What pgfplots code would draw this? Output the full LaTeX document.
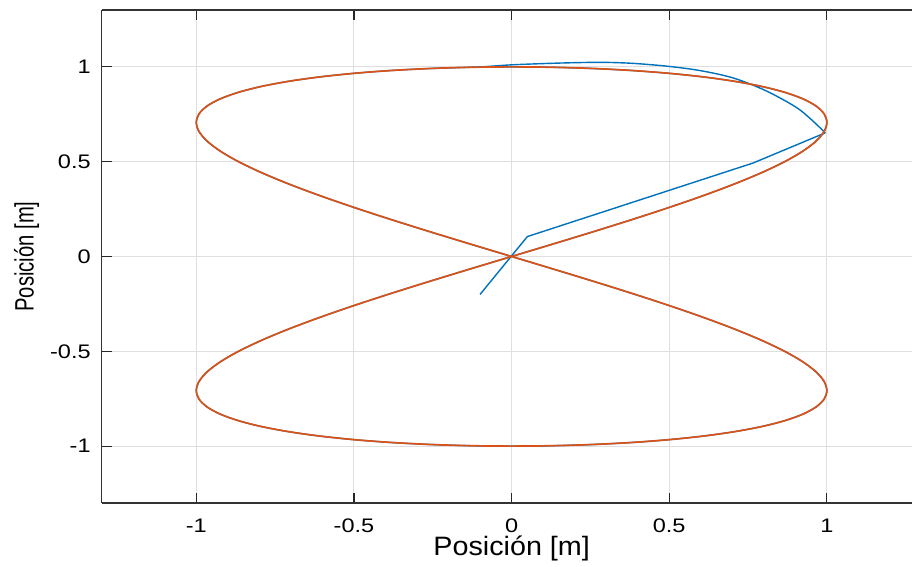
\documentclass[border=0pt]{standalone}
\usepackage{fontspec}
\setmainfont{Liberation Sans}
\usepackage{pgfplots}
\pgfplotsset{compat=1.18}
\usepackage{graphicx}
\definecolor{mblue}{rgb}{0,0.447,0.741}
\definecolor{morange}{rgb}{0.850,0.325,0.098}
\newcommand{\tl}[1]{\scalebox{1.2}[1]{#1}}
\begin{document}
\begin{tikzpicture}
\begin{axis}[
 scale only axis, width=405.15pt, height=246.5pt,
 xmin=-1.3, xmax=1.27, ymin=-1.3, ymax=1.3,
 axis x line*=box, axis y line*=left,
 axis line style={black!80, line width=0.6pt, -},
 xtick={-1,-0.5,0,0.5,1}, xticklabels={\tl{-1},\tl{-0.5},\tl{0},\tl{0.5},\tl{1}},
 ytick={-1,-0.5,0,0.5,1}, yticklabels={\tl{-1},\tl{-0.5},\tl{0},\tl{0.5},\tl{1}},
 tick style={black!85, line width=0.6pt},
 major tick length=5pt, tick align=inside,
 grid=major, grid style={gray!25, line width=0.55pt},
 ticklabel style={font=\fontsize{9.8}{11}\selectfont},
 xticklabel style={yshift=-4.5pt},
 yticklabel style={xshift=-2pt},
 xlabel={\scalebox{1.08}[1]{Posición [m]}}, ylabel={\scalebox{0.76}[1]{Posición [m]}},
 label style={font=\fontsize{13.3}{15}\selectfont},
 xlabel style={at={(rel axis cs:0.506,-0.0913)}, anchor=center},
 ylabel style={at={(rel axis cs:-0.0926,0.5)}, anchor=center},
]
% blue transient
\addplot[mblue, line width=0.7pt] coordinates {(-0.1,-0.2) (0.05,0.105) (0.766,0.493) (0.995,0.652)};
% blue trajectory
\addplot[mblue, line width=0.7pt, smooth] coordinates {
(0.995,0.652) (0.913,0.775) (0.808,0.873) (0.702,0.942) (0.596,0.981) (0.491,1.004) (0.38,1.019) (0.279,1.024) (0.15,1.02) (0.003,1.011) (-0.1,1.0)
(-.25882,.99144) (-.38268,.98079) (-.5,.96593) (-.60876,.94693) (-.70711,.92388) (-.79335,.89687) (-.86603,.86603) (-.92388,.83147) (-.96593,.79335) (-.99144,.75184) (-1,.70711) (-.99144,.65935) (-.96593,.60876) (-.92388,.55557) (-.86603,.5) (-.79335,.44229) (-.70711,.38268) (-.60876,.32144) (-.5,.25882) (-.38268,.19509) (-.25882,.13053) (-.13053,.06540) (0,0)
(.13053,-.06540) (.25882,-.13053) (.38268,-.19509) (.5,-.25882) (.60876,-.32144) (.70711,-.38268) (.79335,-.44229) (.86603,-.5) (.92388,-.55557) (.96593,-.60876) (.99144,-.65935) (1,-.70711) (.99144,-.75184) (.96593,-.79335) (.92388,-.83147) (.86603,-.86603) (.79335,-.89687) (.70711,-.92388) (.60876,-.94693) (.5,-.96593) (.38268,-.98079) (.25882,-.99144) (.13053,-.99786) (0,-1)
(-.13053,-.99786) (-.25882,-.99144) (-.38268,-.98079) (-.5,-.96593) (-.60876,-.94693) (-.70711,-.92388) (-.79335,-.89687) (-.86603,-.86603) (-.92388,-.83147) (-.96593,-.79335) (-.99144,-.75184) (-1,-.70711) (-.99144,-.65935) (-.96593,-.60876) (-.92388,-.55557) (-.86603,-.5) (-.79335,-.44229) (-.70711,-.38268) (-.60876,-.32144) (-.5,-.25882) (-.38268,-.19509) (-.25882,-.13053) (-.13053,-.06540) (0,0)
(.13053,.06540) (.25882,.13053) (.38268,.19509) (.5,.25882) (.60876,.32144) (.70711,.38268) (.79335,.44229) (.86603,.5) (.92388,.55557) (.96593,.60876) (.99144,.65935) (1,.70711) (.99144,.75184) (.96593,.79335) (.92388,.83147) (.86603,.86603) (.79335,.89687) (.70711,.92388) (.60876,.94693) (.5,.96593) (.38268,.98079) (.25882,.99144) (.13053,.99786) (0,1) (-.13053,.99786) (-.25882,.99144)
};
% orange reference
\addplot[morange, line width=0.85pt, smooth] coordinates {
(0,0) (.13053,.06540) (.25882,.13053) (.38268,.19509) (.5,.25882) (.60876,.32144) (.70711,.38268) (.79335,.44229) (.86603,.5) (.92388,.55557) (.96593,.60876) (.99144,.65935) (1,.70711) (.99144,.75184) (.96593,.79335) (.92388,.83147) (.86603,.86603) (.79335,.89687) (.70711,.92388) (.60876,.94693) (.5,.96593) (.38268,.98079) (.25882,.99144) (.13053,.99786) (0,1)
(-.13053,.99786) (-.25882,.99144) (-.38268,.98079) (-.5,.96593) (-.60876,.94693) (-.70711,.92388) (-.79335,.89687) (-.86603,.86603) (-.92388,.83147) (-.96593,.79335) (-.99144,.75184) (-1,.70711) (-.99144,.65935) (-.96593,.60876) (-.92388,.55557) (-.86603,.5) (-.79335,.44229) (-.70711,.38268) (-.60876,.32144) (-.5,.25882) (-.38268,.19509) (-.25882,.13053) (-.13053,.06540) (0,0)
(.13053,-.06540) (.25882,-.13053) (.38268,-.19509) (.5,-.25882) (.60876,-.32144) (.70711,-.38268) (.79335,-.44229) (.86603,-.5) (.92388,-.55557) (.96593,-.60876) (.99144,-.65935) (1,-.70711) (.99144,-.75184) (.96593,-.79335) (.92388,-.83147) (.86603,-.86603) (.79335,-.89687) (.70711,-.92388) (.60876,-.94693) (.5,-.96593) (.38268,-.98079) (.25882,-.99144) (.13053,-.99786) (0,-1)
(-.13053,-.99786) (-.25882,-.99144) (-.38268,-.98079) (-.5,-.96593) (-.60876,-.94693) (-.70711,-.92388) (-.79335,-.89687) (-.86603,-.86603) (-.92388,-.83147) (-.96593,-.79335) (-.99144,-.75184) (-1,-.70711) (-.99144,-.65935) (-.96593,-.60876) (-.92388,-.55557) (-.86603,-.5) (-.79335,-.44229) (-.70711,-.38268) (-.60876,-.32144) (-.5,-.25882) (-.38268,-.19509) (-.25882,-.13053) (-.13053,-.06540) (0,0)
};
\end{axis}
\pgfresetboundingbox
\path[use as bounding box] ([shift={(-50.85pt,-31.85pt)}]current axis.south west) rectangle ([shift={(0pt,5pt)}]current axis.north east);
\end{tikzpicture}
\end{document}
